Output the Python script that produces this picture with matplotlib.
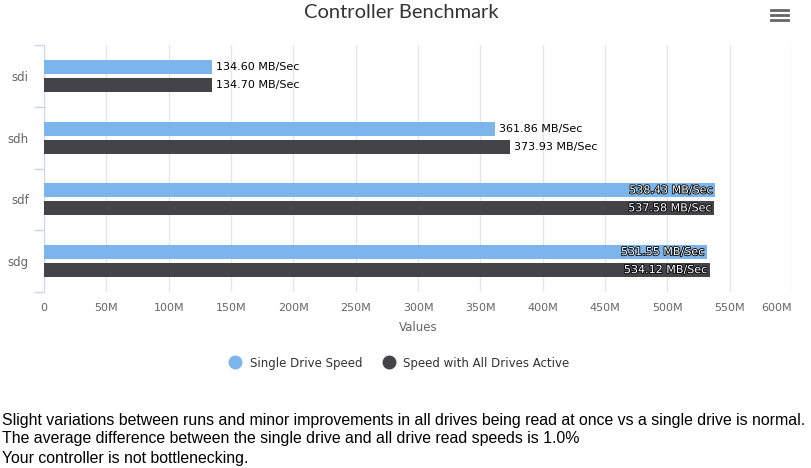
import matplotlib
matplotlib.use('Agg')
import matplotlib.pyplot as plt
import matplotlib.patheffects as pe
from matplotlib.lines import Line2D
import numpy as np

# datos
drives = ['sdi', 'sdh', 'sdf', 'sdg']
single_speed = [134.60, 361.86, 538.43, 531.55]
all_speed = [134.70, 373.93, 537.58, 534.12]
series_names = ['Single Drive Speed', 'Speed with All Drives Active']
x_ticks = [0, 50, 100, 150, 200, 250, 300, 350, 400, 450, 500, 550, 600]
notes = [
    'Slight variations between runs and minor improvements in all drives being read at once vs a single drive is normal.',
    'The average difference between the single drive and all drive read speeds is 1.0%',
    'Your controller is not bottlenecking.',
]

blue = '#7cb5ec'
dark = '#434348'
gray = '#666666'

plt.rcParams['font.family'] = ['DejaVu Sans']

fig = plt.figure(figsize=(8.12, 4.68), dpi=100)
ax = fig.add_axes([44 / 812, 1 - 292 / 468, 748 / 812, 247 / 468])

y = np.arange(len(drives))
h = 0.225
off = 0.145
ax.barh(y - off, single_speed, height=h, color=blue, zorder=3)
ax.barh(y + off, all_speed, height=h, color=dark, zorder=3)

ax.set_xlim(0, 600)
ax.set_ylim(len(drives) - 0.5, -0.5)

# etiquetas de datos
for vals, dy in ((single_speed, -off), (all_speed, off)):
    for i, v in enumerate(vals):
        txt = '%.2f MB/Sec' % v
        if v + 75 > 600:
            ax.text(v - 2, i + dy, txt, ha='right', va='center', fontsize=8, color='white',
                    zorder=4, path_effects=[pe.withStroke(linewidth=1.2, foreground='black')])
        else:
            ax.text(v + 3, i + dy, txt, ha='left', va='center', fontsize=8, color='black', zorder=4)

ax.set_xticks(x_ticks)
ax.set_xticklabels(['0' if t == 0 else '%dM' % t for t in x_ticks], fontsize=8, color=gray)
ax.get_xticklabels()[-1].set_horizontalalignment('right')
ax.tick_params(axis='x', length=0, pad=8)
ax.grid(axis='x', color='#e6e6e6', linewidth=1, zorder=0)

ax.set_yticks(y)
ax.set_yticklabels(drives, fontsize=8.5, color=gray)
ax.set_yticks(np.arange(len(drives) + 1) - 0.5, minor=True)
ax.tick_params(axis='y', which='major', length=0, pad=11)
ax.tick_params(axis='y', which='minor', length=7, color='#ccd6eb', width=1)

for s in ['top', 'right', 'bottom']:
    ax.spines[s].set_visible(False)
ax.spines['left'].set_color('#ccd6eb')

ax.set_xlabel('Values', fontsize=8.5, color=gray, labelpad=6)

fig.text(401 / 812, 1 - 12 / 468, 'Controller Benchmark', ha='center', va='center',
         fontsize=14.5, color='#333333', family=['Lato', 'DejaVu Sans'])

# menu
for k in range(3):
    fig.add_artist(Line2D([771 / 812, 788 / 812], [1 - (10 + 5 * k) / 468] * 2,
                          color='#666666', linewidth=2.0))

handles = [Line2D([], [], marker='o', linestyle='none', markersize=9, color=c) for c in (blue, dark)]
fig.legend(handles, series_names, loc='center', bbox_to_anchor=(396.5 / 812, 1 - 363 / 468), ncol=2,
           frameon=False, fontsize=8.5, labelcolor='#333333', handletextpad=0.2, columnspacing=1.27)

note_texts = []
for k, line in enumerate(notes):
    t = fig.text(2 / 812, 1 - (420 + 19 * k) / 468, line, ha='left', va='center', fontsize=12,
                 color='black', family=['Liberation Sans Narrow', 'Liberation Sans'])
    note_texts.append(t)

# ajustar tamano para que la primera linea ocupe el ancho como en el original
fig.canvas.draw()
w = note_texts[0].get_window_extent().width
size = 12 * 805 / w
for t in note_texts:
    t.set_fontsize(size)

fig.savefig('out.png', dpi=100)
